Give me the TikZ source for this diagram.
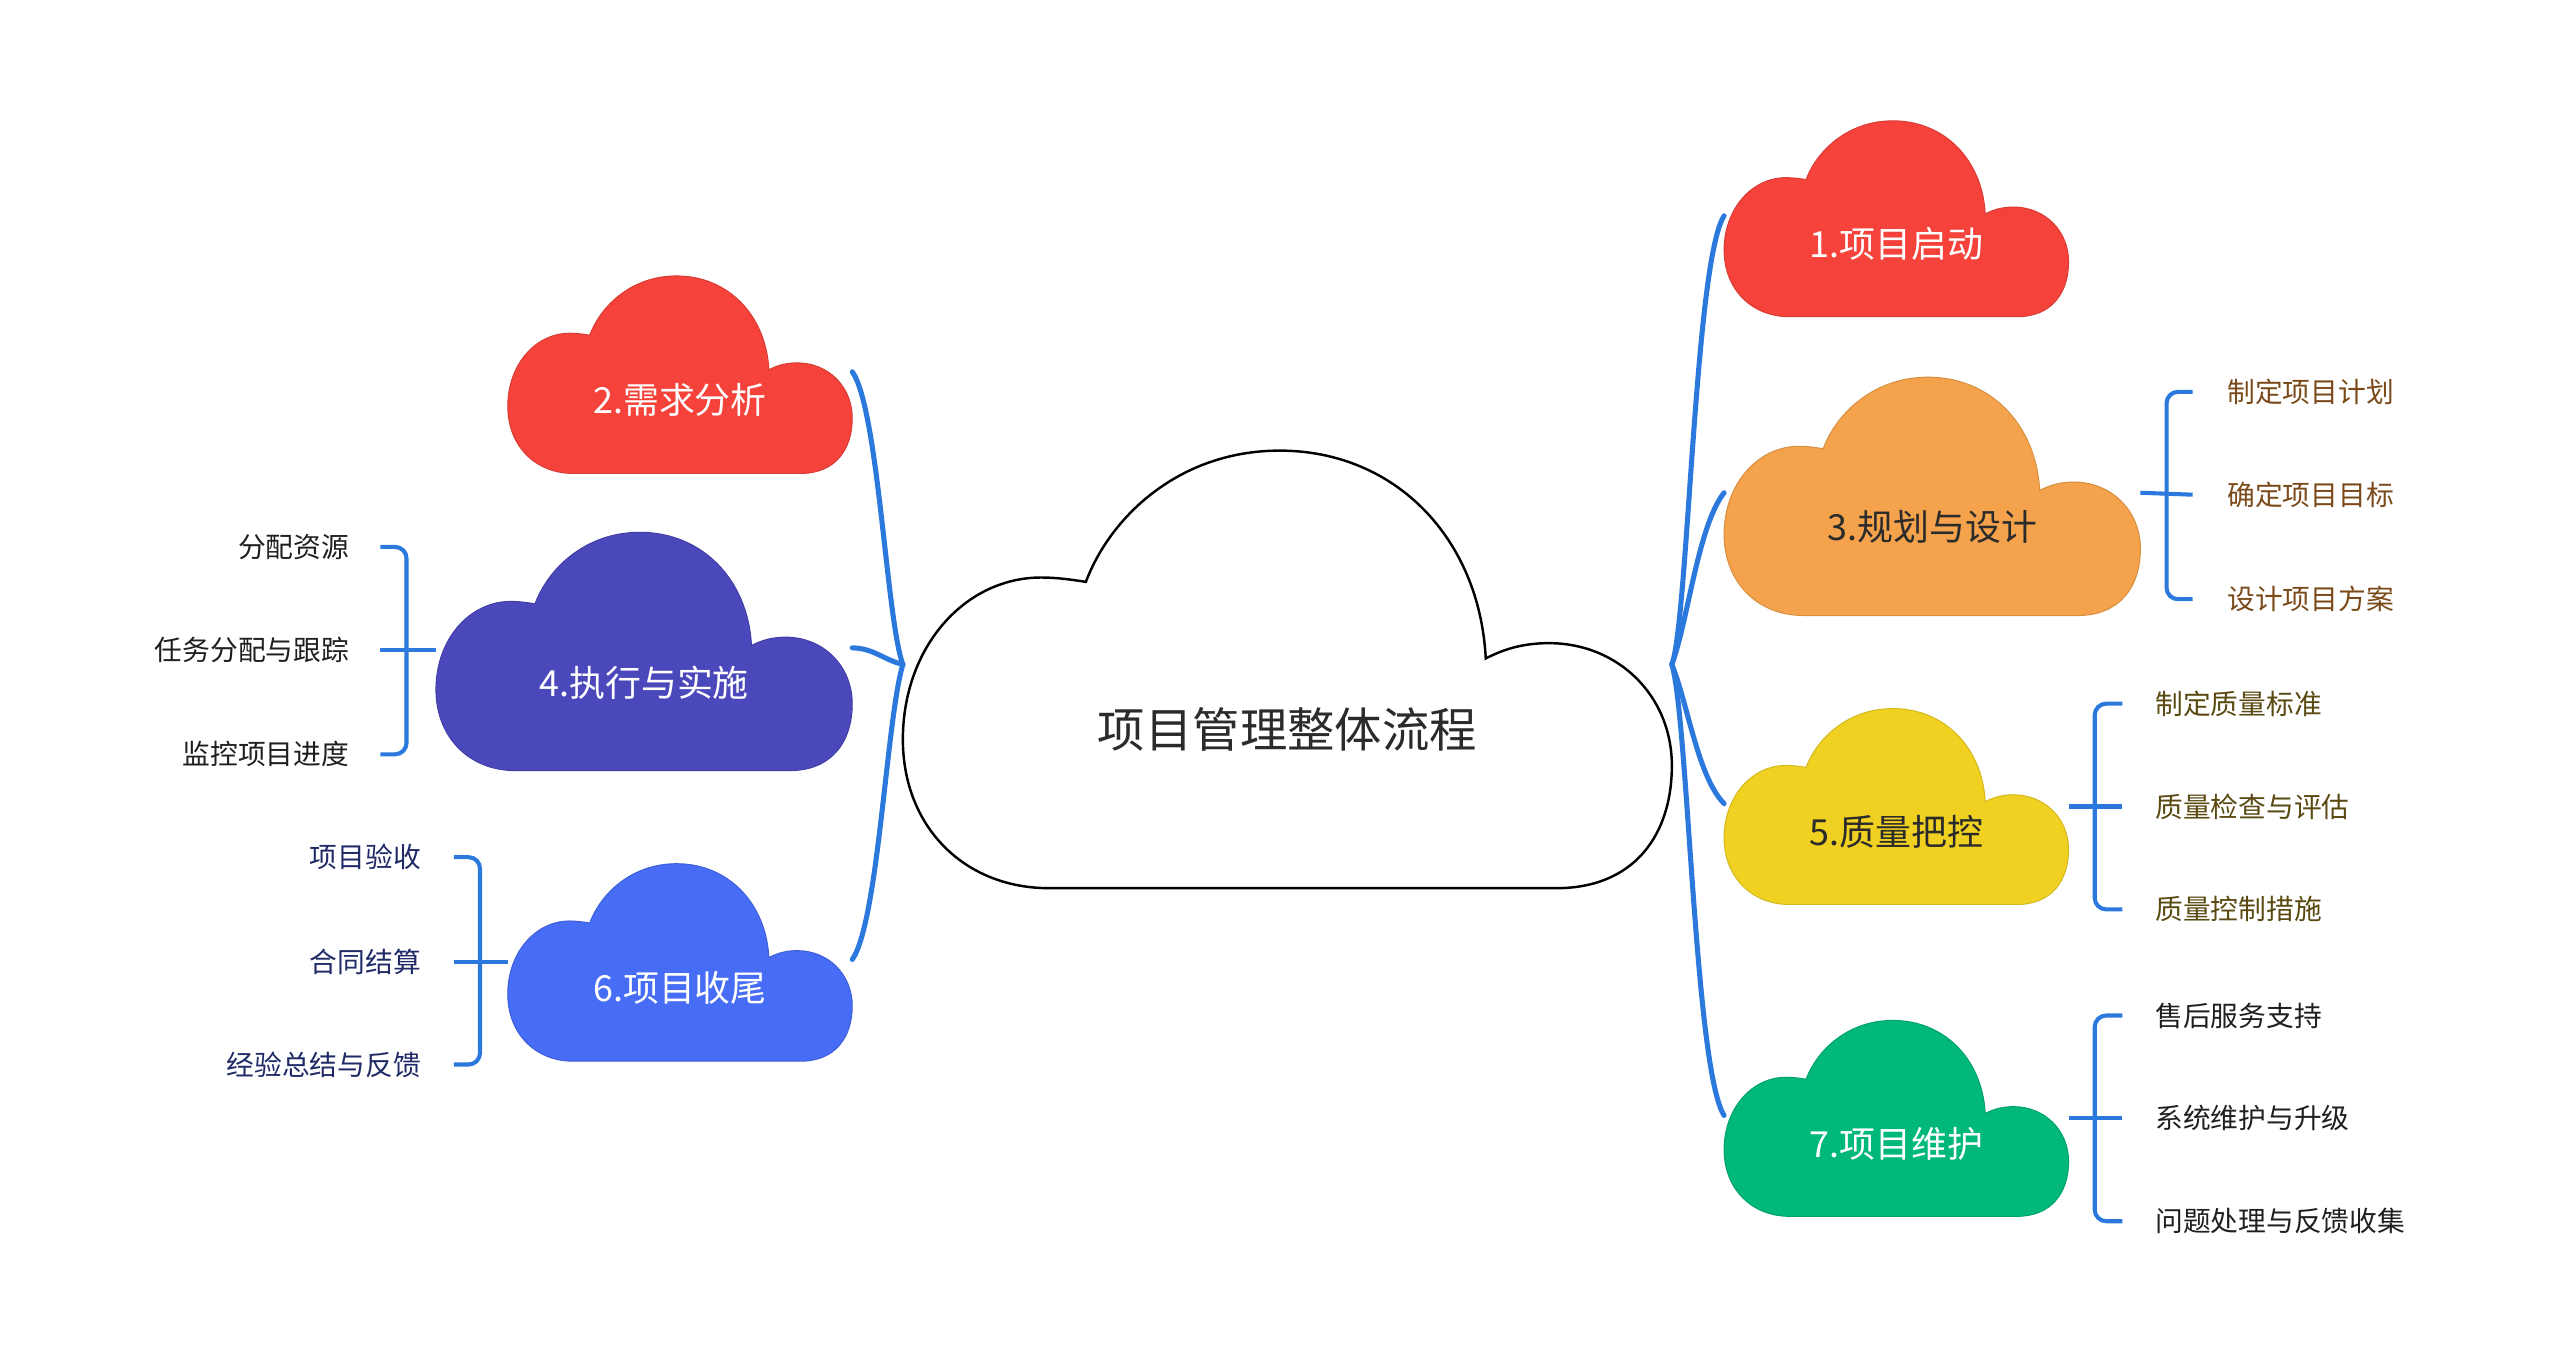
\documentclass[tikz,border=0pt]{standalone}
\usepackage{fontspec}
\setmainfont{Noto Sans CJK SC}
\definecolor{cred}{HTML}{F5433B}
\definecolor{corange}{HTML}{F4A24B}
\definecolor{cyellow}{HTML}{F0D122}
\definecolor{cgreen}{HTML}{00B879}
\definecolor{cindigo}{HTML}{4B48BC}
\definecolor{cblue}{HTML}{476CF5}
\definecolor{linkblue}{HTML}{2C79DE}
\definecolor{tbrown}{HTML}{7B4A1A}
\definecolor{tolive}{HTML}{5A4A12}
\definecolor{tdark}{HTML}{1F1F1F}
\definecolor{tnavy}{HTML}{1F2A66}
\definecolor{tmain}{HTML}{2B2B2B}
% #1 name, #2 x0, #3 y0, #4 w, #5 h, #6 style
\newcommand\mycloud[6]{%
  \begin{scope}[shift={(#2,#3)},xscale=#4,yscale=#5]
    \path[#6] (0.19,1) -- (0.85,1)
      .. controls (0.95,1) and (1,0.88) .. (1,0.72)
      .. controls (1,0.56) and (0.93,0.44) .. (0.84,0.44)
      .. controls (0.80,0.44) and (0.775,0.46) .. (0.758,0.475)
      .. controls (0.75,0.2) and (0.64,0) .. (0.49,0)
      .. controls (0.36,0) and (0.27,0.15) .. (0.238,0.30)
      .. controls (0.22,0.295) and (0.20,0.29) .. (0.18,0.29)
      .. controls (0.08,0.29) and (0,0.45) .. (0,0.66)
      .. controls (0,0.86) and (0.08,1) .. (0.19,1) -- cycle;
    \coordinate (#1-w) at (0,0.485);
    \coordinate (#1-e) at (1,0.485);
  \end{scope}}
\begin{document}
\begin{tikzpicture}[x=1pt,y=-1pt,
  conn/.style={line width=3.1pt,draw=linkblue,line cap=round},
  brk/.style={line width=2.5pt,draw=linkblue,rounded corners=7pt},
  sub/.style={font=\fontsize{17}{20}\selectfont,inner sep=0pt},
  ctext/.style={font=\fontsize{22}{26}\selectfont,inner sep=0pt},
  cl/.style={fill=#1,draw=#1!88!black,line width=0.6pt}]
\path[fill=white,use as bounding box] (0,0) rectangle (1568,840);

% central cloud
\mycloud{c0}{553}{276}{471}{268}{fill=white,draw=black,line width=1.5pt}
\node[font=\fontsize{29}{34}\selectfont,text=tmain,inner sep=0pt] (c0) at (788.5,447) {项目管理整体流程};

% topic clouds
\mycloud{k1}{1056}{74}{211}{120}{cl=cred}
\node[ctext,text=white] (c1) at (1161.5,149.6) {1.项目启动};
\mycloud{k3}{1056}{231}{255}{146}{cl=corange}
\node[ctext,text=tmain] (c3) at (1183.5,323) {3.规划与设计};
\mycloud{k5}{1056}{434}{211}{120}{cl=cyellow}
\node[ctext,text=tmain] (c5) at (1161.5,509.6) {5.质量把控};
\mycloud{k7}{1056}{625}{211}{120}{cl=cgreen}
\node[ctext,text=white] (c7) at (1161.5,700.6) {7.项目维护};
\mycloud{k2}{311}{169}{211}{121}{cl=cred}
\node[ctext,text=white] (c2) at (416.5,245) {2.需求分析};
\mycloud{k4}{267}{326}{255}{146}{cl=cindigo}
\node[ctext,text=white] (c4) at (394.5,418) {4.执行与实施};
\mycloud{k6}{311}{529}{211}{121}{cl=cblue}
\node[ctext,text=white] (c6) at (416.5,605) {6.项目收尾};

% junctions
\coordinate (jr) at (1024,407);
\coordinate (jl) at (553,407);

% main connectors right
\draw[conn] (jr) .. controls (1034,380) and (1038,160) .. (k1-w);
\draw[conn] (jr) .. controls (1034,380) and (1040,322) .. (k3-w);
\draw[conn] (jr) .. controls (1034,432) and (1040,476) .. (k5-w);
\draw[conn] (jr) .. controls (1034,440) and (1038,655) .. (k7-w);
% main connectors left
\draw[conn] (jl) .. controls (543,380) and (538,250) .. (k2-e);
\draw[conn] (jl) .. controls (541,404) and (535,397) .. (k4-e);
\draw[conn] (jl) .. controls (543,440) and (538,565) .. (k6-e);

% sub items cloud 3
\node[sub,text=tbrown,anchor=west] (s31) at (1364,240) {制定项目计划};
\node[sub,text=tbrown,anchor=west] (s32) at (1364,303) {确定项目目标};
\node[sub,text=tbrown,anchor=west] (s33) at (1364,367) {设计项目方案};
\coordinate (b3) at (1343,303);
\draw[brk] (s31.west -| b3) -- ++(-16,0) |- (s33.west -| b3);
\draw[brk,rounded corners=0pt] (k3-e) -- (b3);

% sub items cloud 5
\node[sub,text=tolive,anchor=west] (s51) at (1320,431) {制定质量标准};
\node[sub,text=tolive,anchor=west] (s52) at (1320,494) {质量检查与评估};
\node[sub,text=tolive,anchor=west] (s53) at (1320,557) {质量控制措施};
\coordinate (b5) at (1300,494);
\draw[brk] (s51.west -| b5) -- ++(-17,0) |- (s53.west -| b5);
\draw[brk,rounded corners=0pt] (k5-e |- b5) -- (b5);

% sub items cloud 7
\node[sub,text=tdark,anchor=west] (s71) at (1320,622) {售后服务支持};
\node[sub,text=tdark,anchor=west] (s72) at (1320,685) {系统维护与升级};
\node[sub,text=tdark,anchor=west] (s73) at (1320,748) {问题处理与反馈收集};
\coordinate (b7) at (1300,685);
\draw[brk] (s71.west -| b7) -- ++(-17,0) |- (s73.west -| b7);
\draw[brk,rounded corners=0pt] (k7-e |- b7) -- (b7);

% sub items cloud 4
\node[sub,text=tdark,anchor=east] (s41) at (214,335) {分配资源};
\node[sub,text=tdark,anchor=east] (s42) at (214,398) {任务分配与跟踪};
\node[sub,text=tdark,anchor=east] (s43) at (214,462) {监控项目进度};
\coordinate (b4) at (233,398);
\draw[brk] (s41.east -| b4) -- ++(16,0) |- (s43.east -| b4);
\draw[brk,rounded corners=0pt] (k4-w |- b4) -- (b4);

% sub items cloud 6
\node[sub,text=tnavy,anchor=east] (s61) at (258,525) {项目验收};
\node[sub,text=tnavy,anchor=east] (s62) at (258,589) {合同结算};
\node[sub,text=tnavy,anchor=east] (s63) at (258,652) {经验总结与反馈};
\coordinate (b6) at (278,589);
\draw[brk] (s61.east -| b6) -- ++(16,0) |- (s63.east -| b6);
\draw[brk,rounded corners=0pt] (k6-w |- b6) -- (b6);
\end{tikzpicture}
\end{document}
